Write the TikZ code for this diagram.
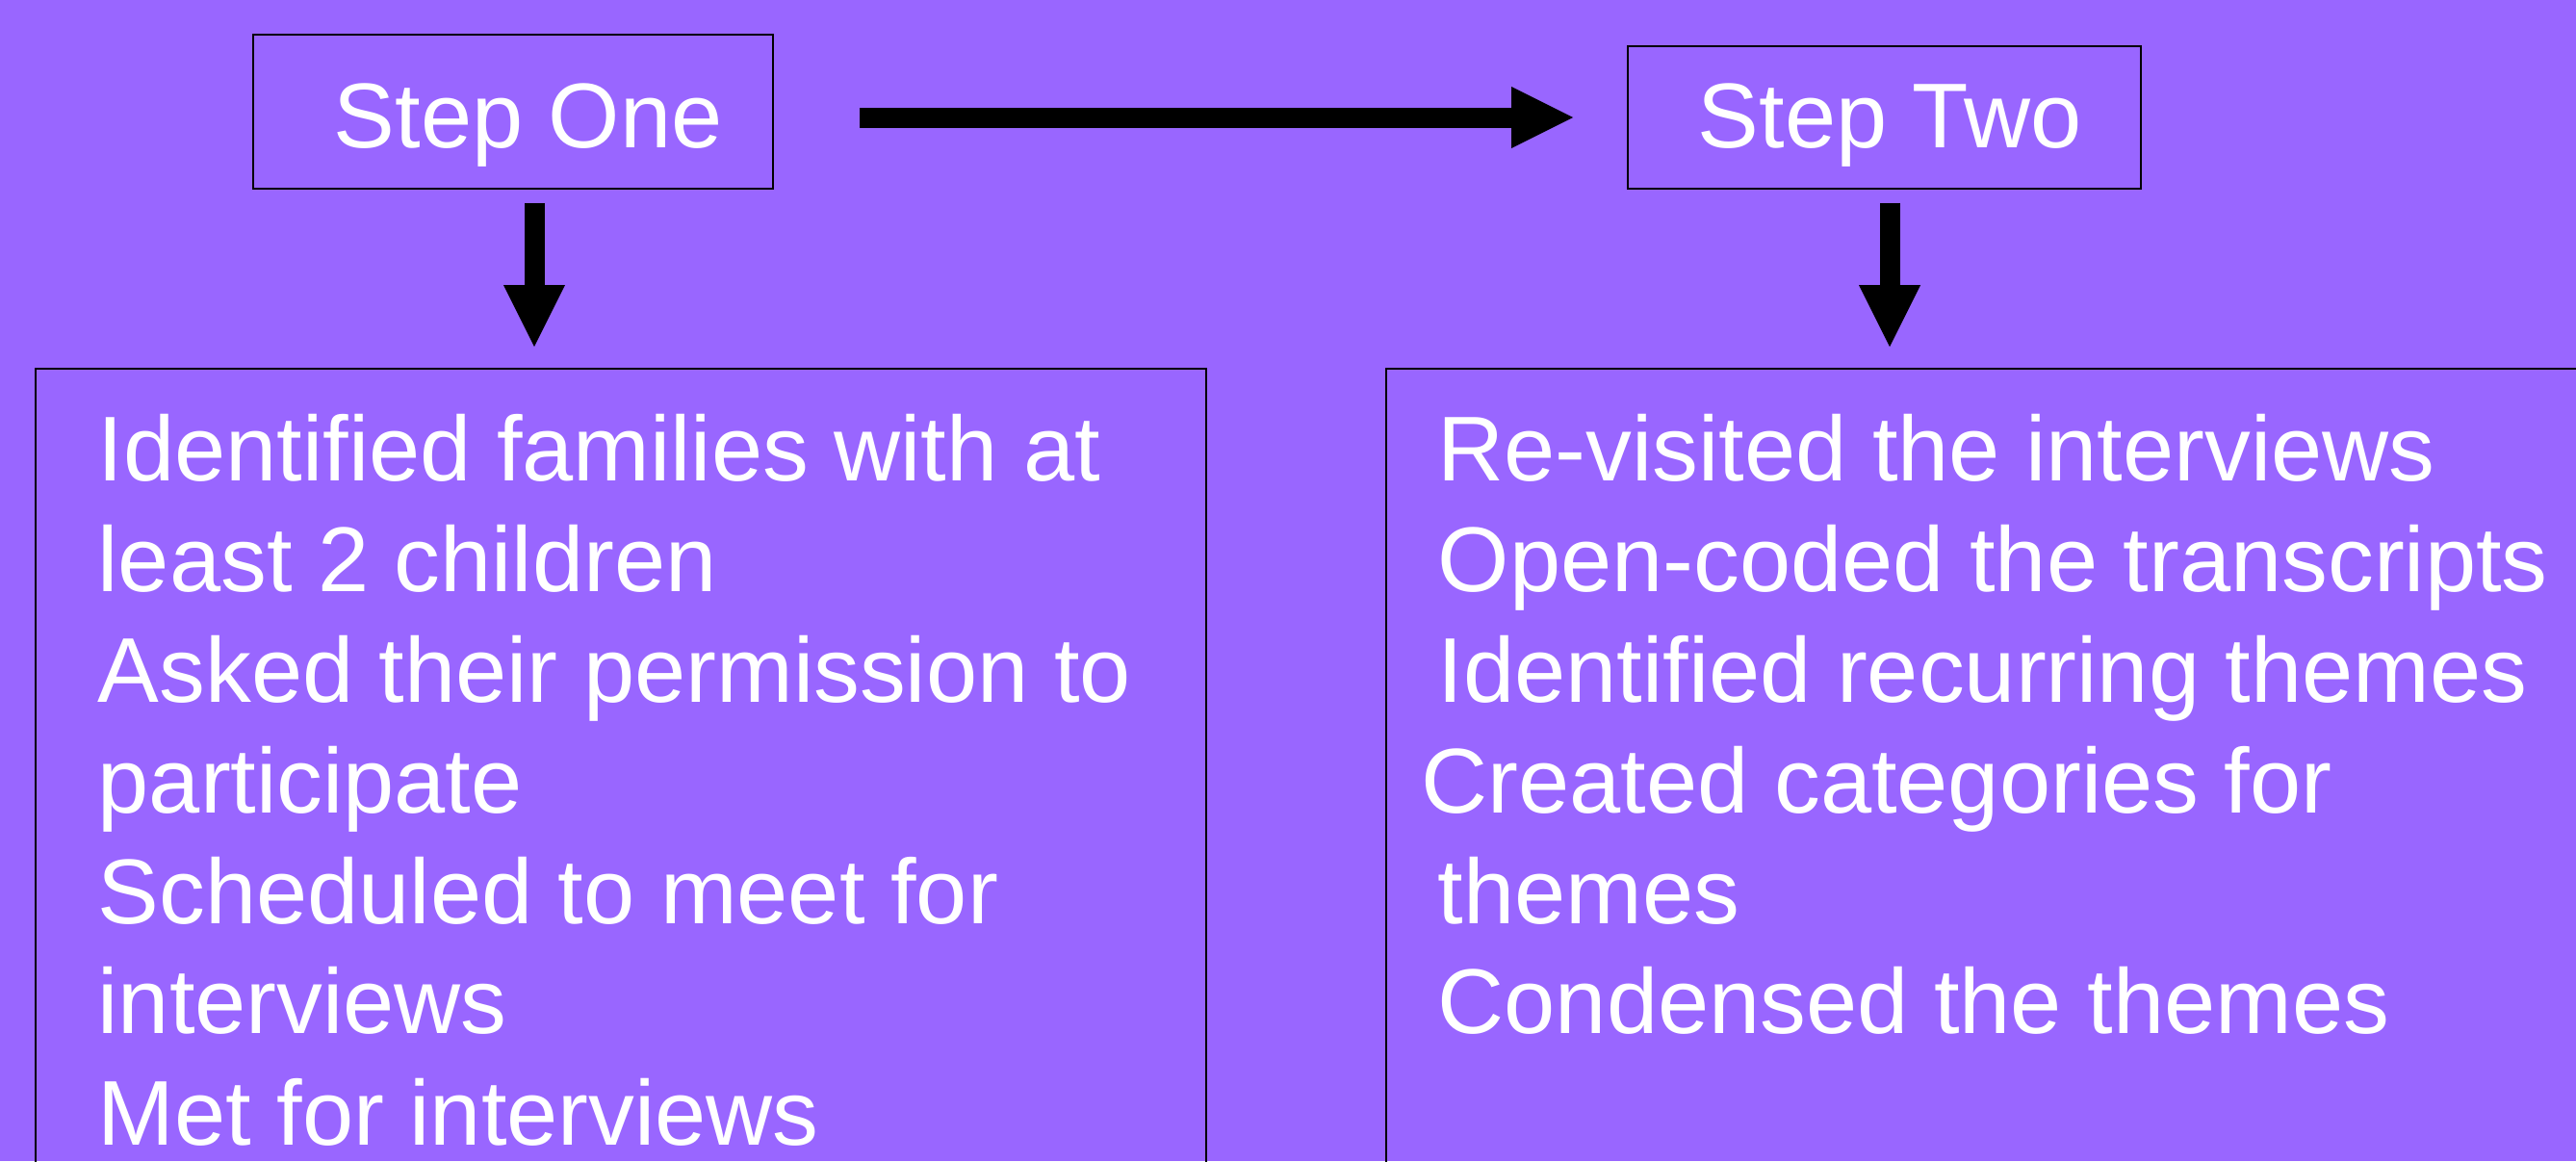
\documentclass[tikz,border=0pt]{standalone}
\usepackage{fontspec}
\setmainfont{Liberation Sans}
\usepackage{xcolor}
\usepackage{tikz}
\usetikzlibrary{arrows.meta, positioning}
\definecolor{slidepurple}{RGB}{153,102,255}
\tikzstyle{stepbox} = [draw=black, line width=0.45pt, inner sep=0pt]
\tikzstyle{steptext} = [anchor=base west, inner sep=0pt, text=white, font=\fontsize{27.2}{32}\selectfont]
\tikzstyle{arrow} = [line width=0.21cm, -{Triangle[length=0.64cm, width=0.64cm, line width=0pt]}]

\begin{document}
\begin{tikzpicture}
        \fill[slidepurple] (0,0) rectangle (26.76,-12.06);
        \useasboundingbox (0,0) rectangle (26.76,-12.06);
        \clip (0,0) rectangle (26.76,-12.06);
        % the two steps
        \node[stepbox, minimum width=5.40cm, minimum height=1.60cm] (one) at (5.33,-1.16) {};
        \node[steptext] (onetext) at (3.46,-1.53) {Step One};
        \node[stepbox, minimum width=5.33cm, minimum height=1.48cm] (two) at (19.575,-1.22) {};
        \node[steptext] (twotext) at (17.63,-1.53) {Step Two};
        % the two lists
        \node[stepbox, minimum width=12.16cm, minimum height=8.67cm] (left) at (6.45,-8.165) {};
        \node[stepbox, minimum width=12.80cm, minimum height=8.67cm] (right) at (20.80,-8.165) {};
        \draw[arrow, shorten <=0.89cm, shorten >=0.56cm] (one.east |- two.west) -- (two.west);
        \draw[arrow, shorten <=0.14cm, shorten >=0.22cm] ([xshift=0.22cm]one.south) -- ([xshift=0.22cm]one.south |- left.north);
        \draw[arrow, shorten <=0.14cm, shorten >=0.22cm] ([xshift=0.055cm]two.south) -- ([xshift=0.055cm]two.south |- right.north);
        % step one
        \node[steptext] (l1) at (1.01,-4.99) {Identified families with at};
        \node[steptext] (l2) at (1.01,-6.14) {least 2 children};
        \node[steptext] (l3) at (1.01,-7.29) {Asked their permission to};
        \node[steptext] (l4) at (1.01,-8.44) {participate};
        \node[steptext] (l5) at (1.01,-9.59) {Scheduled to meet for};
        \node[steptext] (l6) at (1.01,-10.73) {interviews};
        \node[steptext] (l7) at (1.01,-11.89) {Met for interviews};
        % step two
        \node[steptext] (r1) at (14.93,-4.99) {Re-visited the interviews};
        \node[steptext] (r2) at (14.93,-6.14) {Open-coded the transcripts};
        \node[steptext] (r3) at (14.93,-7.29) {Identified recurring themes};
        \node[steptext] (r4) at (14.76,-8.44) {Created categories for};
        \node[steptext] (r5) at (14.93,-9.59) {themes};
        \node[steptext] (r6) at (14.93,-10.73) {Condensed the themes};
    \end{tikzpicture}
\end{document}
